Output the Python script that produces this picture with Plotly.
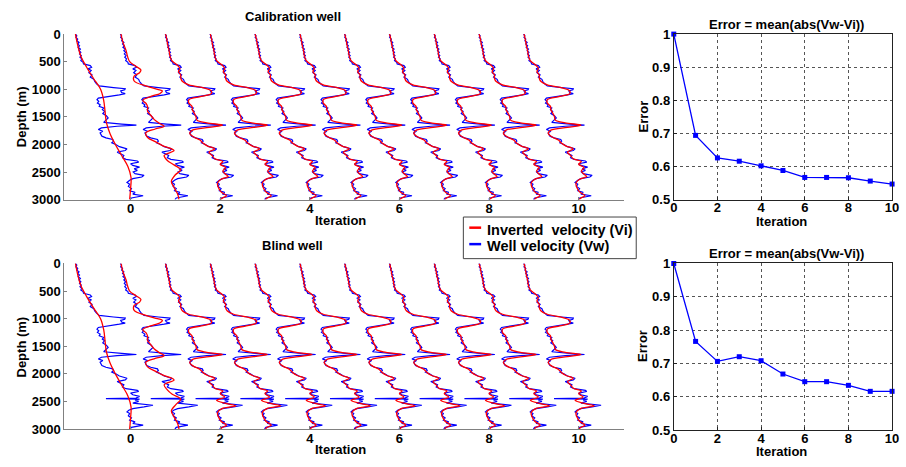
import plotly.graph_objects as go

W, H = 906, 467

# ---------------- data ----------------
ITERATIONS = [0, 1, 2, 3, 4, 5, 6, 7, 8, 9, 10]

# Well velocity (normalised, offset from iteration position) - calibration well
DEPTH_VW_CAL = [0, 30, 60, 90, 120, 150, 180, 210, 240, 270, 300, 330, 360, 390, 420, 450, 480, 510, 540,
                570, 600, 630, 660, 700, 740, 780, 820, 860, 900, 940, 970, 990, 1010, 1030, 1060, 1080,
                1100, 1130, 1160, 1190, 1220, 1250, 1280, 1310, 1340, 1370, 1400, 1440, 1480, 1520, 1560,
                1600, 1630, 1650, 1670, 1700, 1730, 1760, 1790, 1820, 1850, 1880, 1910, 1940, 1970, 2000,
                2040, 2080, 2110, 2140, 2170, 2200, 2240, 2270, 2300, 2320, 2350, 2380, 2410, 2440, 2470,
                2500, 2530, 2560, 2590, 2620, 2650, 2690, 2720, 2760, 2800, 2840, 2870, 2900, 2930, 2950,
                2970, 3000]
VW_CAL = [-1.23, -1.20, -1.22, -1.18, -1.20, -1.15, -1.18, -1.14, -1.17, -1.12, -1.15, -1.11, -1.14, -1.10,
          -1.13, -1.09, -1.11, -1.06, -1.05, -0.90, -0.87, -0.95, -0.88, -0.93, -0.86, -0.90, -0.82, -0.80,
          -0.76, -0.70, -0.38, -0.12, -0.13, -0.22, -0.20, -0.12, -0.25, -0.45, -0.72, -0.75, -0.71, -0.74,
          -0.68, -0.70, -0.60, -0.63, -0.58, -0.62, -0.54, -0.50, -0.55, -0.60, -0.20, 0.13, -0.30, -0.65,
          -0.72, -0.62, -0.68, -0.66, -0.64, -0.55, -0.40, -0.38, -0.42, -0.33, -0.25, -0.08, -0.12, -0.30,
          -0.22, -0.15, -0.18, -0.10, 0.15, 0.18, 0.00, 0.05, 0.20, 0.08, 0.15, 0.06, 0.10, 0.30, 0.25, 0.05,
          -0.02, -0.08, -0.02, -0.05, 0.02, -0.02, 0.10, 0.05, 0.28, 0.10, 0.02, -0.01]

# Well velocity - blind well
DEPTH_VW_BLD = [0, 30, 60, 90, 120, 150, 180, 210, 240, 270, 300, 330, 360, 390, 420, 450, 480, 510, 540,
                570, 600, 630, 660, 700, 740, 780, 820, 860, 900, 940, 970, 990, 1010, 1030, 1060, 1080,
                1100, 1130, 1160, 1190, 1220, 1250, 1280, 1310, 1340, 1370, 1400, 1440, 1480, 1520, 1560,
                1600, 1630, 1650, 1670, 1700, 1730, 1760, 1790, 1820, 1850, 1880, 1910, 1940, 1970, 2000,
                2040, 2080, 2110, 2140, 2170, 2200, 2240, 2270, 2300, 2320, 2350, 2380, 2410, 2440, 2450,
                2460, 2475, 2500, 2530, 2570, 2600, 2630, 2660, 2690, 2720, 2760, 2800, 2840, 2870, 2900,
                2930, 2950, 2970, 3000]
VW_BLD = [-1.23, -1.20, -1.22, -1.18, -1.20, -1.15, -1.18, -1.14, -1.17, -1.12, -1.15, -1.11, -1.14, -1.10,
          -1.13, -1.09, -1.11, -1.06, -1.05, -0.90, -0.87, -0.95, -0.88, -0.93, -0.86, -0.90, -0.82, -0.80,
          -0.76, -0.70, -0.38, -0.12, -0.13, -0.22, -0.20, -0.12, -0.25, -0.45, -0.72, -0.75, -0.71, -0.74,
          -0.68, -0.70, -0.60, -0.63, -0.58, -0.62, -0.54, -0.50, -0.55, -0.60, -0.20, 0.13, -0.30, -0.65,
          -0.72, -0.62, -0.68, -0.66, -0.64, -0.55, -0.40, -0.38, -0.42, -0.33, -0.25, -0.08, -0.12, -0.30,
          -0.22, -0.15, -0.18, -0.10, 0.15, 0.18, 0.00, 0.05, 0.20, 0.12, -0.55, 0.20, 0.10, 0.18, 0.05,
          0.50, 0.30, 0.05, -0.04, -0.08, -0.02, -0.05, 0.02, -0.02, 0.10, 0.05, 0.28, 0.10, 0.02, -0.01]

# Inverted velocity - initial model (iteration 0), same for both wells
DEPTH_VI0 = [0, 200, 400, 600, 800, 1000, 1200, 1400, 1600, 1800, 2000, 2200, 2400, 2600, 2800, 3000]
VI0 = [-1.23, -1.18, -1.11, -0.98, -0.83, -0.67, -0.60, -0.57, -0.54, -0.46, -0.34, -0.20, -0.06, 0.01,
       0.00, -0.02]

# Inverted velocity after iteration 1
DEPTH_VI1 = [0, 150, 300, 400, 500, 585, 650, 700, 760, 850, 940, 1000, 1030, 1080, 1120, 1200, 1260, 1320,
             1400, 1440, 1550, 1620, 1670, 1720, 1790, 1875, 1950, 2020, 2110, 2200, 2290, 2370, 2460,
             2550, 2670, 2780, 2900, 3000]
VI1_CAL = [-1.215, -1.17, -1.10, -1.07, -1.02, -0.88, -0.77, -0.80, -0.92, -0.92, -0.66, -0.40, -0.29,
           -0.35, -0.51, -0.73, -0.65, -0.62, -0.62, -0.58, -0.47, -0.35, -0.25, -0.45, -0.66, -0.62, -0.45,
           -0.29, -0.03, -0.25, -0.18, -0.03, 0.12, 0.00, -0.09, -0.03, 0.05, 0.08]
VI1_BLD = [-1.215, -1.17, -1.10, -1.07, -1.02, -0.88, -0.77, -0.80, -0.92, -0.92, -0.66, -0.40, -0.29,
           -0.35, -0.51, -0.73, -0.65, -0.62, -0.62, -0.58, -0.47, -0.35, -0.25, -0.45, -0.66, -0.62, -0.45,
           -0.29, -0.03, -0.25, -0.18, -0.07, 0.12, 0.02, -0.09, -0.03, 0.05, 0.08]

# Inverted velocity for iterations 2-10 (visually indistinguishable at this scale)
DEPTH_VIL = [0, 100, 200, 300, 400, 480, 560, 620, 680, 740, 800, 860, 920, 980, 1030, 1080, 1130, 1190,
             1250, 1310, 1370, 1430, 1500, 1560, 1610, 1650, 1690, 1740, 1800, 1860, 1920, 1980, 2030,
             2080, 2140, 2200, 2260, 2310, 2360, 2420, 2480, 2540, 2580, 2630, 2700, 2780, 2860, 2930,
             2970, 3000]
VIL_CAL = [-1.22, -1.19, -1.17, -1.14, -1.12, -1.08, -0.96, -0.90, -0.93, -0.88, -0.88, -0.84, -0.70,
           -0.35, -0.20, -0.20, -0.42, -0.70, -0.70, -0.63, -0.62, -0.58, -0.54, -0.52, -0.30, 0.05, -0.25,
           -0.62, -0.68, -0.60, -0.45, -0.38, -0.28, -0.12, -0.25, -0.18, -0.12, 0.06, 0.00, 0.12, 0.06,
           0.12, 0.18, 0.02, -0.06, -0.04, 0.02, 0.14, 0.05, 0.01]
VIL_BLD = [-1.22, -1.19, -1.17, -1.14, -1.12, -1.08, -0.96, -0.90, -0.93, -0.88, -0.88, -0.84, -0.70,
           -0.35, -0.20, -0.20, -0.42, -0.70, -0.70, -0.63, -0.62, -0.58, -0.54, -0.52, -0.30, 0.05, -0.25,
           -0.62, -0.68, -0.60, -0.45, -0.38, -0.28, -0.12, -0.25, -0.18, -0.12, 0.06, 0.00, 0.10, -0.08,
           0.15, 0.35, 0.04, -0.06, -0.04, 0.02, 0.14, 0.05, 0.01]

# Error curves
ERR_CAL = [1.0, 0.694, 0.626, 0.616, 0.602, 0.588, 0.567, 0.567, 0.566, 0.556, 0.547]
ERR_BLD = [1.0, 0.766, 0.706, 0.720, 0.708, 0.668, 0.645, 0.645, 0.634, 0.616, 0.616]

DEPTH_TICKS = [0, 500, 1000, 1500, 2000, 2500, 3000]
ITER_TICKS = [0, 2, 4, 6, 8, 10]
ERR_TICKS = [0.5, 0.6, 0.7, 0.8, 0.9, 1.0]

# ---------------- figure ----------------
BLUE = "#0000FF"
RED = "#FF0000"
FONT = "Liberation Sans"

fig = go.Figure()


def inverted_for(k, vi1, vil):
    if k == 0:
        return DEPTH_VI0, VI0
    if k == 1:
        return DEPTH_VI1, vi1
    return DEPTH_VIL, vil


def add_well(dv, vw, vi1, vil, xa, ya):
    for k in ITERATIONS:
        fig.add_trace(go.Scatter(x=[k + v for v in vw], y=dv, mode="lines",
                                 line=dict(color=BLUE, width=1.2), xaxis=xa, yaxis=ya,
                                 showlegend=False, hoverinfo="skip"))
        d, v = inverted_for(k, vi1, vil)
        fig.add_trace(go.Scatter(x=[k + q for q in v], y=d, mode="lines", line_shape="spline",
                                 line=dict(color=RED, width=1.3, smoothing=1.0), xaxis=xa, yaxis=ya,
                                 showlegend=False, hoverinfo="skip"))


add_well(DEPTH_VW_CAL, VW_CAL, VI1_CAL, VIL_CAL, "x", "y")
add_well(DEPTH_VW_BLD, VW_BLD, VI1_BLD, VIL_BLD, "x3", "y3")

for err, xa, ya in [(ERR_CAL, "x2", "y2"), (ERR_BLD, "x4", "y4")]:
    fig.add_trace(go.Scatter(x=ITERATIONS, y=err, mode="lines+markers",
                             line=dict(color=BLUE, width=1.3), marker=dict(color=BLUE, size=5, symbol="square"),
                             xaxis=xa, yaxis=ya, showlegend=False, hoverinfo="skip", cliponaxis=False))


def px(x):
    return x / W


def py(y):
    return 1 - y / H


tickfont = dict(family=FONT, size=13, color="black", weight="bold")

left_x = dict(range=[-1.48, 11.02], tickvals=ITER_TICKS, showline=True, linecolor="#808080", linewidth=1,
              ticks="inside", ticklen=3, tickcolor="#808080", showgrid=False, zeroline=False,
              tickfont=tickfont, fixedrange=True, ticklabelstandoff=-3)
left_y = dict(range=[3000, 0], tickvals=DEPTH_TICKS, showline=True, linecolor="#808080", linewidth=1,
              ticks="inside", ticklen=3, tickcolor="#808080", showgrid=False, zeroline=False,
              tickfont=tickfont, fixedrange=True)
right_x = dict(range=[0, 10], tickvals=ITER_TICKS, showline=True, mirror=True, linecolor="#222",
               linewidth=1, ticks="inside", ticklen=3, tickcolor="#222", showgrid=True, gridcolor="#555",
               griddash="dot", gridwidth=1, zeroline=False, tickfont=tickfont, fixedrange=True,
               ticklabeloverflow="allow", ticklabelstandoff=-4)
right_y = dict(range=[0.5, 1.0], tickvals=ERR_TICKS, ticktext=["0.5", "0.6", "0.7", "0.8", "0.9", "1"],
               showline=True, mirror=True, linecolor="#222", linewidth=1, ticks="inside", ticklen=3,
               tickcolor="#222", showgrid=True, gridcolor="#555", griddash="dot", gridwidth=1,
               zeroline=False, tickfont=tickfont, fixedrange=True)

LX = [px(61), px(628)]
RX = [px(678), px(899)]
TY = [py(199), py(28)]
BY = [py(436), py(265)]
BRY = [py(437), py(265)]

fig.update_layout(
    width=W, height=H, margin=dict(l=0, r=0, t=0, b=0),
    paper_bgcolor="white", plot_bgcolor="white",
    xaxis=dict(domain=LX, anchor="y", **left_x),
    yaxis=dict(domain=TY, anchor="x", **left_y),
    xaxis2=dict(domain=RX, anchor="y2", **right_x),
    yaxis2=dict(domain=TY, anchor="x2", **right_y),
    xaxis3=dict(domain=LX, anchor="y3", **left_x),
    yaxis3=dict(domain=BY, anchor="x3", **left_y),
    xaxis4=dict(domain=RX, anchor="y4", **right_x),
    yaxis4=dict(domain=BRY, anchor="x4", **right_y),
    showlegend=False,
)


def ann(text, x, y, angle=0, size=13):
    fig.add_annotation(text=text, x=px(x), y=py(y), xref="paper", yref="paper", showarrow=False,
                       textangle=angle, xanchor="center", yanchor="middle",
                       font=dict(family=FONT, size=size, color="black", weight="bold"))


ann("Calibration well", 293, 10)
ann("Blind well", 292, 246)
ann("Iteration", 341, 221)
ann("Iteration", 341, 457)
ann("Depth (m)", 18, 113, -90)
ann("Depth (m)", 18, 351, -90)
ann("Error = mean(abs(Vw-Vi))", 792, 18)
ann("Error = mean(abs(Vw-Vi))", 792, 255)
ann("Error", 647, 113, -90)
ann("Error", 647, 350, -90)
ann("Iteration", 787, 222)
ann("Iteration", 787, 459)

# legend box (drawn manually to match compact MATLAB legend)
fig.add_shape(type="rect", xref="paper", yref="paper", x0=px(465), x1=px(640), y0=py(260), y1=py(217),
              line=dict(color="#444", width=1), fillcolor="white")
fig.add_shape(type="line", xref="paper", yref="paper", x0=px(471), x1=px(483), y0=py(228), y1=py(228),
              line=dict(color=RED, width=2.5))
fig.add_shape(type="line", xref="paper", yref="paper", x0=px(471), x1=px(483), y0=py(245), y1=py(245),
              line=dict(color=BLUE, width=2.5))
for text, y in [("Inverted  velocity (Vi)", 230), ("Well velocity (Vw)", 247)]:
    fig.add_annotation(text=text, x=px(487), y=py(y), xref="paper", yref="paper", showarrow=False,
                       xanchor="left", yanchor="middle",
                       font=dict(family=FONT, size=14.5, color="black", weight="bold"))

fig.write_html("out.html")
